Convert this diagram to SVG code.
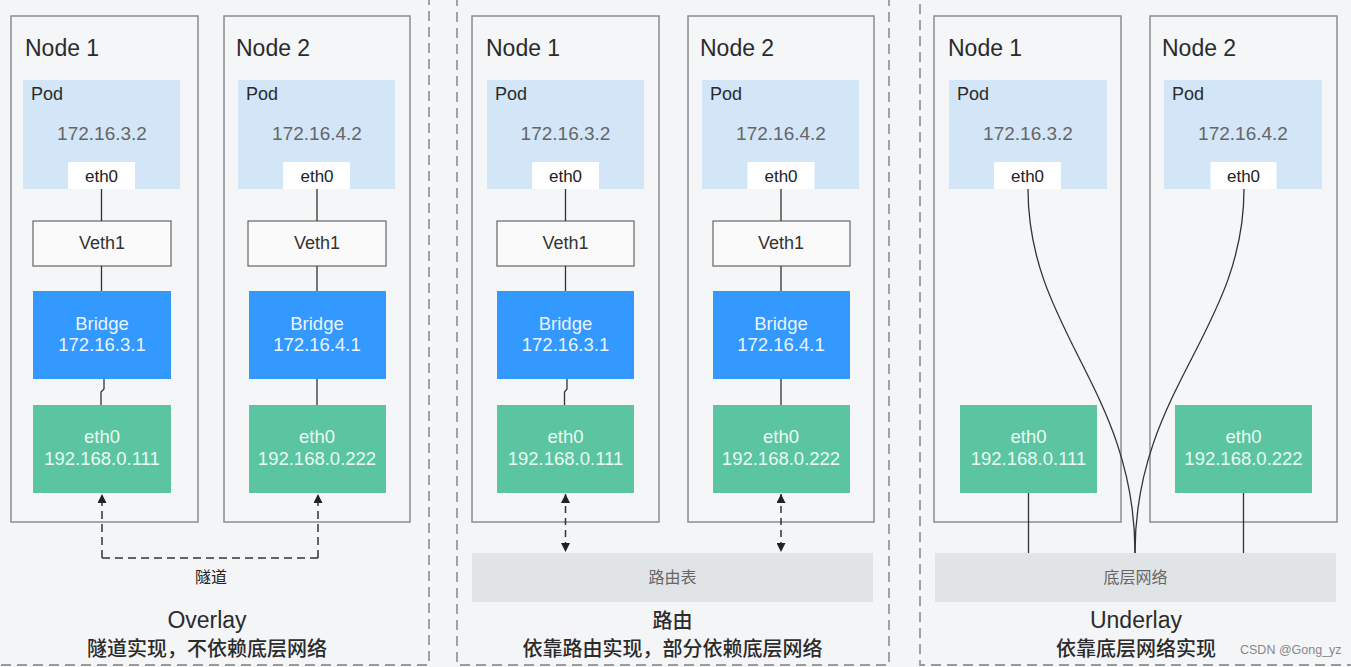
<svg xmlns="http://www.w3.org/2000/svg" width="1351" height="667" viewBox="0 0 1351 667">
<defs>
<style>
.t{font-family:"Liberation Sans","Noto Sans CJK SC",sans-serif}
.c{font-family:"Noto Sans CJK SC","Liberation Sans",sans-serif}
.panel{fill:none;stroke:#9a9a9a;stroke-width:1.8;stroke-dasharray:10 6}
.node{fill:#f5f6f8;stroke:#8c8c8c;stroke-width:1.5}
.pod{fill:#d2e6f8}
.ew{fill:#ffffff}
.veth{fill:#fafafa;stroke:#666;stroke-width:1.2}
.br{fill:#3399ff}
.gr{fill:#5bc4a0}
.net{fill:#e1e4e6}
.nl{font-size:23px;fill:#2b2b2b}
.pl{font-size:18px;fill:#2b2b2b}
.ip{font-size:19px;fill:#666;text-anchor:middle}
.e0{font-size:17px;fill:#222;text-anchor:middle}
.vl{font-size:18px;fill:#333;text-anchor:middle}
.wl{font-size:18.5px;fill:#eaf4ff;text-anchor:middle}
.gl{font-size:18.5px;fill:#eafaf3;text-anchor:middle}
.ln{fill:none;stroke:#333;stroke-width:1.3}
.dl{fill:none;stroke:#333;stroke-width:1.5;stroke-dasharray:8 5}
.ttl{font-size:23px;fill:#2b2b2b;text-anchor:middle}
.sub{font-size:20px;fill:#2b2b2b;text-anchor:middle;font-weight:500}
.lab{font-size:16px;fill:#666;text-anchor:middle}
</style>
<marker id="ah" viewBox="0 0 10 10" refX="10" refY="5" markerWidth="9" markerHeight="9" markerUnits="userSpaceOnUse" orient="auto-start-reverse">
<path d="M0,0 L10,5 L0,10 z" fill="#222"/>
</marker>
</defs>
<rect x="0" y="0" width="1351" height="667" fill="#f4f5f7"/>

<g id="panels">
<rect class="panel" x="-20" y="-20" width="449" height="685"/>
<rect class="panel" x="457" y="-20" width="432" height="685"/>
<rect class="panel" x="920" y="-20" width="460" height="685"/>
</g>

<g id="p1n1">
<rect class="node" x="11" y="16" width="187" height="506"/>
<text class="t nl" x="25" y="56">Node 1</text>
<rect class="pod" x="23" y="80" width="157" height="109"/>
<text class="t pl" x="31" y="100">Pod</text>
<text class="t ip" x="102" y="140">172.16.3.2</text>
<rect class="ew" x="68" y="162" width="67" height="27"/>
<text class="t e0" x="101.5" y="182">eth0</text>
<rect class="veth" x="33" y="221" width="138" height="45"/>
<text class="t vl" x="102" y="249">Veth1</text>
<rect class="br" x="33" y="291" width="138" height="88"/>
<text class="t wl" x="102" y="330">Bridge</text>
<text class="t wl" x="102" y="351">172.16.3.1</text>
<rect class="gr" x="33" y="405" width="138" height="88"/>
<text class="t gl" x="102" y="443">eth0</text>
<text class="t gl" x="102" y="465">192.168.0.111</text>
</g>
<g id="p1n2">
<rect class="node" x="224" y="16" width="186" height="506"/>
<text class="t nl" x="236" y="56">Node 2</text>
<rect class="pod" x="238" y="80" width="157" height="109"/>
<text class="t pl" x="246" y="100">Pod</text>
<text class="t ip" x="317" y="140">172.16.4.2</text>
<rect class="ew" x="283" y="162" width="67" height="27"/>
<text class="t e0" x="317" y="182">eth0</text>
<rect class="veth" x="248" y="221" width="138" height="45"/>
<text class="t vl" x="317" y="249">Veth1</text>
<rect class="br" x="249" y="291" width="137" height="88"/>
<text class="t wl" x="317" y="330">Bridge</text>
<text class="t wl" x="317" y="351">172.16.4.1</text>
<rect class="gr" x="249" y="405" width="137" height="88"/>
<text class="t gl" x="317" y="443">eth0</text>
<text class="t gl" x="317" y="465">192.168.0.222</text>
</g>

<g id="p2n1">
<rect class="node" x="472" y="16" width="187" height="506"/>
<text class="t nl" x="486" y="56">Node 1</text>
<rect class="pod" x="487" y="80" width="157" height="109"/>
<text class="t pl" x="495" y="100">Pod</text>
<text class="t ip" x="565.5" y="140">172.16.3.2</text>
<rect class="ew" x="532" y="162" width="67" height="27"/>
<text class="t e0" x="565.5" y="182">eth0</text>
<rect class="veth" x="497" y="221" width="137" height="45"/>
<text class="t vl" x="565.5" y="249">Veth1</text>
<rect class="br" x="497" y="291" width="137" height="88"/>
<text class="t wl" x="565.5" y="330">Bridge</text>
<text class="t wl" x="565.5" y="351">172.16.3.1</text>
<rect class="gr" x="497" y="405" width="137" height="88"/>
<text class="t gl" x="565.5" y="443">eth0</text>
<text class="t gl" x="565.5" y="465">192.168.0.111</text>
</g>
<g id="p2n2">
<rect class="node" x="688" y="16" width="186" height="506"/>
<text class="t nl" x="700" y="56">Node 2</text>
<rect class="pod" x="702" y="80" width="157" height="109"/>
<text class="t pl" x="710" y="100">Pod</text>
<text class="t ip" x="781" y="140">172.16.4.2</text>
<rect class="ew" x="747.5" y="162" width="67" height="27"/>
<text class="t e0" x="781" y="182">eth0</text>
<rect class="veth" x="713" y="221" width="137" height="45"/>
<text class="t vl" x="781" y="249">Veth1</text>
<rect class="br" x="713" y="291" width="137" height="88"/>
<text class="t wl" x="781" y="330">Bridge</text>
<text class="t wl" x="781" y="351">172.16.4.1</text>
<rect class="gr" x="713" y="405" width="137" height="88"/>
<text class="t gl" x="781" y="443">eth0</text>
<text class="t gl" x="781" y="465">192.168.0.222</text>
</g>
<g id="routetable">
<rect class="net" x="472" y="553" width="401" height="49"/>
<text class="c lab" x="672.5" y="583">路由表</text>
</g>

<g id="p3n1">
<rect class="node" x="934" y="16" width="187" height="506"/>
<text class="t nl" x="948" y="56">Node 1</text>
<rect class="pod" x="949" y="80" width="158" height="109"/>
<text class="t pl" x="957" y="100">Pod</text>
<text class="t ip" x="1028" y="140">172.16.3.2</text>
<rect class="ew" x="994" y="162" width="67" height="27"/>
<text class="t e0" x="1027.5" y="182">eth0</text>
<rect class="gr" x="960" y="405" width="137" height="88"/>
<text class="t gl" x="1028.5" y="443">eth0</text>
<text class="t gl" x="1028.5" y="465">192.168.0.111</text>
</g>
<g id="p3n2">
<rect class="node" x="1150" y="16" width="187" height="506"/>
<text class="t nl" x="1162" y="56">Node 2</text>
<rect class="pod" x="1164" y="80" width="158" height="109"/>
<text class="t pl" x="1172" y="100">Pod</text>
<text class="t ip" x="1243" y="140">172.16.4.2</text>
<rect class="ew" x="1210.5" y="162" width="66" height="27"/>
<text class="t e0" x="1243.5" y="182">eth0</text>
<rect class="gr" x="1175" y="405" width="137" height="88"/>
<text class="t gl" x="1243.5" y="443">eth0</text>
<text class="t gl" x="1243.5" y="465">192.168.0.222</text>
</g>
<g id="underlaynet">
<rect class="net" x="935" y="553" width="401" height="49"/>
<text class="c lab" x="1135.5" y="583">底层网络</text>
</g>

<g id="connectors">
<path class="ln" d="M101.5,189 V221 M101.5,266 V291 M104,379 V389 L101,392 V405"/>
<path class="ln" d="M317,189 V221 M317,266 V291 M317,379 V405"/>
<path class="dl" d="M102,558 V494" marker-end="url(#ah)"/>
<path class="dl" d="M102,558 H318"/>
<path class="dl" d="M318,558 V494" marker-end="url(#ah)"/>
<path class="ln" d="M565.5,189 V221 M565.5,266 V291 M567,379 V389 L564.5,392 V405"/>
<path class="ln" d="M781,189 V221 M781,266 V291 M781,379 V405"/>
<path class="dl" d="M565.5,494 V552" marker-start="url(#ah)" marker-end="url(#ah)" style="stroke-dasharray:7 5"/>
<path class="dl" d="M781,494 V552" marker-start="url(#ah)" marker-end="url(#ah)" style="stroke-dasharray:7 5"/>
<path class="ln" d="M1028,189 C1028,330 1135,390 1135,553"/>
<path class="ln" d="M1244,189 C1244,330 1135,390 1135,553"/>
<path class="ln" d="M1028.5,493 V553 M1243.5,493 V553"/>
</g>

<g id="captions">
<text class="c lab" x="211" y="583" style="fill:#222;font-size:16px">隧道</text>
<text class="t ttl" x="207" y="628">Overlay</text>
<text class="c sub" x="207" y="656">隧道实现，不依赖底层网络</text>
<text class="c sub" x="672.5" y="628">路由</text>
<text class="c sub" x="672.5" y="656">依靠路由实现，部分依赖底层网络</text>
<text class="t ttl" x="1136" y="628">Underlay</text>
<text class="c sub" x="1136" y="656">依靠底层网络实现</text>
<text class="t" x="1240" y="654" style="font-size:12.5px;fill:#888">CSDN @Gong_yz</text>
</g>
</svg>
